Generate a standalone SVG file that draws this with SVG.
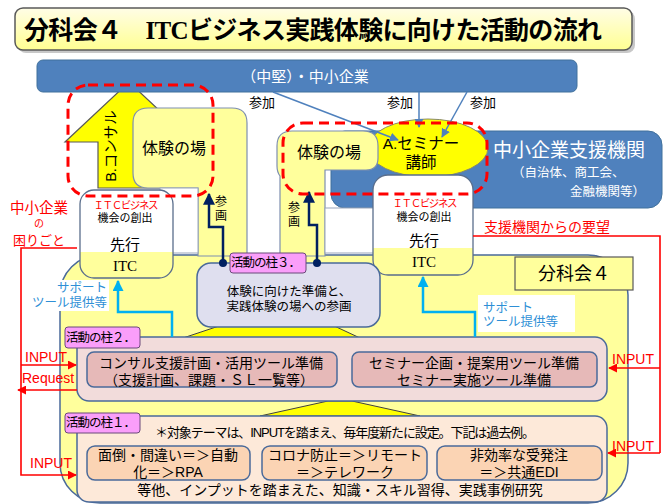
<svg xmlns="http://www.w3.org/2000/svg" width="663" height="504" viewBox="0 0 663 504">
<defs>
<linearGradient id="tg" x1="0" y1="0" x2="0" y2="1">
<stop offset="0" stop-color="#fffde6"/>
<stop offset="1" stop-color="#ffff92"/>
</linearGradient>
<marker id="aRed" viewBox="0 0 10 10" refX="9" refY="5" markerWidth="9" markerHeight="9" markerUnits="userSpaceOnUse" orient="auto"><path d="M0,0 L10,5 L0,10 Z" fill="#ff0000"/></marker>
<marker id="aSky" viewBox="0 0 10 10" refX="9" refY="5" markerWidth="11" markerHeight="11" markerUnits="userSpaceOnUse" orient="auto"><path d="M0,0 L10,5 L0,10 Z" fill="#00b0f0"/></marker>
<marker id="aNavy" viewBox="0 0 10 10" refX="9" refY="5" markerWidth="12" markerHeight="12" markerUnits="userSpaceOnUse" orient="auto"><path d="M0,0 L10,5 L0,10 Z" fill="#002060"/></marker>
<marker id="dNavy" viewBox="0 0 10 10" refX="5" refY="5" markerWidth="8" markerHeight="8" markerUnits="userSpaceOnUse"><circle cx="5" cy="5" r="5" fill="#002060"/></marker>
<marker id="aBlue" viewBox="0 0 10 10" refX="9" refY="5" markerWidth="9" markerHeight="9" markerUnits="userSpaceOnUse" orient="auto"><path d="M0,0 L10,5 L0,10 Z" fill="#4f81bd"/></marker>
<style>
text{font-family:'Liberation Sans','Noto Sans CJK JP',sans-serif;dominant-baseline:central}
.serif{font-family:'Liberation Serif','Noto Serif CJK JP','Noto Sans CJK JP',serif}
.c{text-anchor:middle}
.e{text-anchor:end}
.red{fill:#ff0000}
.wht{fill:#ffffff}
.sky{fill:#2e8fd6}
.ly{fill:#ffff9c}
.bd{stroke:#4a6a9a;stroke-width:1.5}
.pink{fill:#fa9efa;stroke:#6b4a7a;stroke-width:1}
.rl{stroke:#ff0000;stroke-width:1.6;fill:none}
.dash{fill:none;stroke:#ff0000;stroke-width:3;stroke-dasharray:10 6}
.navy{fill:none;stroke:#002060;stroke-width:2.5}
.skyl{fill:none;stroke:#00b0f0;stroke-width:2.5}
.bl{fill:none;stroke:#4f81bd;stroke-width:1.5}
</style>
</defs>
<rect width="663" height="504" fill="#ffffff"/>

<g id="title">
<rect x="18" y="11" width="617" height="42" rx="8" fill="#c8c8c8"/>
<rect x="15" y="8" width="617" height="42" rx="8" fill="url(#tg)" stroke="#595959" stroke-width="1.5"/>
<text x="24" y="30" font-size="25" font-weight="bold" fill="#000" textLength="578">分科会４　<tspan class="serif" font-weight="bold">ITC</tspan>ビジネス実践体験に向けた活動の流れ</text>
</g>

<g id="consul-arrow">
<polygon points="98,188 98,142 65,142 129,82 193,142 160,142 160,188" fill="#ffff00" stroke="#595959" stroke-width="1.2"/>
<text class="c" transform="translate(111,146) rotate(-90)" font-size="14.5">B.コンサル</text>
</g>

<g id="companies">
<rect x="37" y="60" width="540" height="32" rx="6" fill="#4f81bd" stroke="#41719c"/>
<text class="c wht" x="305" y="76" font-size="15">（中堅）・中小企業</text>
</g>

<g id="support-org">
<rect x="331" y="131" width="331" height="77" rx="14" fill="#4f81bd" stroke="#41719c"/>
<text class="c wht" x="569" y="150" font-size="19">中小企業支援機関</text>
<text class="wht" x="512" y="173" font-size="12.5">（自治体、商工会、</text>
<text class="wht e" x="645" y="192" font-size="12.5">金融機関等）</text>
</g>

<g id="bunkakai-area">
<rect x="60" y="255" width="568" height="248" rx="40" class="ly bd"/>
</g>

<g id="place-left">
<path d="M133,123 Q133,108 148,108 L232,108 Q247,108 247,123 L247,256 L198,256 L198,188 L148,188 Q133,188 133,173 Z" fill="#ffff9c" stroke="#7e8fb0" stroke-width="1.2"/>
<text class="c" x="174" y="148" font-size="16">体験の場</text>
</g>

<g id="seminar">
<ellipse cx="428" cy="148" rx="60" ry="29" fill="#ffff00" stroke="#8a8a6a" stroke-width="1"/>
<text class="c" x="421" y="143" font-size="15.5">A.セミナー</text>
<text class="c" x="421" y="162" font-size="15.5">講師</text>
</g>

<g id="place-mid">
<path d="M277,146 Q277,131 292,131 L363,131 Q378,131 378,146 L378,158 Q378,170 366,170 L325,170 L325,256 L280,256 L280,176 Q277,172 277,166 Z" fill="#ffff9c" stroke="#7e8fb0" stroke-width="1.2"/>
<text class="c" x="329" y="152" font-size="16">体験の場</text>
</g>

<g id="itc-left">
<rect x="160" y="188" width="38" height="65" fill="#ffffff" stroke="#9aa6bb" stroke-width="1"/>
<rect x="80" y="190" width="93" height="88" rx="14" fill="#ffffff"/>
<path d="M80,252 L173,252 L173,264 Q173,278 159,278 L94,278 Q80,278 80,264 Z" fill="#ffff9c"/>
<rect x="80" y="190" width="93" height="88" rx="14" fill="none" stroke="#5a6e8c" stroke-width="1.3"/>
<text class="c red" x="126" y="205" font-size="10.5" textLength="65">ＩＴＣビジネス</text>
<text class="c" x="125" y="218" font-size="11">機会の創出</text>
<text class="c" x="125" y="244" font-size="15">先行</text>
<text class="c serif" x="125" y="266" font-size="15">ITC</text>
</g>

<g id="itc-right">
<rect x="325" y="208" width="52" height="45" fill="#ffffff" stroke="#9aa6bb" stroke-width="1"/>
<rect x="373" y="175" width="100" height="100" rx="15" fill="#ffffff"/>
<path d="M373,248 L473,248 L473,261 Q473,275 459,275 L387,275 Q373,275 373,261 Z" fill="#ffff9c"/>
<rect x="373" y="175" width="100" height="100" rx="15" fill="none" stroke="#5a6e8c" stroke-width="1.3"/>
<text class="c red" x="425" y="203" font-size="10.5" textLength="65">ＩＴＣビジネス</text>
<text class="c" x="424" y="217" font-size="11">機会の創出</text>
<text class="c" x="424" y="240" font-size="15">先行</text>
<text class="c serif" x="424" y="262" font-size="15">ITC</text>
</g>

<g id="bunkakai-label">
<rect x="515" y="257" width="118" height="33" fill="#ffff9c" stroke="#595959" stroke-width="1.2"/>
<text class="c" x="574" y="274" font-size="18">分科会４</text>
</g>

<g id="lifts">
<polygon points="183,338 225,324 330,324 360,338" fill="#ffff00" stroke="#404040" stroke-width="1"/>
<polygon points="260,416 328,401 352,401 420,416" fill="#ffff00" stroke="#404040" stroke-width="1"/>
</g>

<g id="pillar3">
<rect x="197" y="263" width="183" height="64" rx="14" fill="#dfdfef" class="bd"/>
<text class="c" x="289" y="292" font-size="12.5">体験に向けた準備と、</text>
<text class="c" x="289" y="307" font-size="12.5">実践体験の場への参画</text>
<rect x="230" y="253" width="76" height="20" rx="3" class="pink"/>
<text x="231" y="263" font-size="12.5" textLength="70">活動の柱３．</text>
</g>

<g id="pillar2">
<rect x="77" y="337" width="530" height="64" rx="12" fill="#f2dcdb" class="bd"/>
<rect x="87" y="352" width="250" height="35" rx="7" fill="#e6b9b8" class="bd"/>
<text class="c" x="211" y="363" font-size="14">コンサル支援計画・活用ツール準備</text>
<text class="c" x="209" y="380" font-size="14">（支援計画、課題・ＳＬ一覧等）</text>
<rect x="352" y="352" width="245" height="35" rx="7" fill="#e6b9b8" class="bd"/>
<text class="c" x="474" y="363" font-size="14">セミナー企画・提案用ツール準備</text>
<text class="c" x="474" y="380" font-size="14">セミナー実施ツール準備</text>
<rect x="65" y="327" width="75" height="21" rx="3" class="pink"/>
<text x="66" y="338" font-size="12.5" textLength="70">活動の柱２．</text>
</g>

<g id="pillar1">
<rect x="77" y="416" width="530" height="86" rx="12" fill="#fde9d9" class="bd"/>
<text x="155" y="432" font-size="13" textLength="380">＊対象テーマは、INPUTを踏まえ、毎年度新たに設定。下記は過去例。</text>
<rect x="87" y="446" width="163" height="34" rx="8" fill="#fbd4b4" class="bd"/>
<text class="c" x="168" y="455" font-size="14">面倒・間違い＝＞自動</text>
<text class="c" x="168" y="472" font-size="14">化＝＞RPA</text>
<rect x="262" y="446" width="165" height="34" rx="8" fill="#fbd4b4" class="bd"/>
<text class="c" x="345" y="455" font-size="14">コロナ防止＝＞リモート</text>
<text class="c" x="345" y="472" font-size="14">＝＞テレワーク</text>
<rect x="437" y="446" width="165" height="34" rx="8" fill="#fbd4b4" class="bd"/>
<text class="c" x="519" y="455" font-size="14">非効率な受発注</text>
<text class="c" x="519" y="472" font-size="14">＝＞共通EDI</text>
<text class="c" x="340" y="490" font-size="14">等他、インプットを踏まえた、知識・スキル習得、実践事例研究</text>
<rect x="65" y="413" width="75" height="20" rx="3" class="pink"/>
<text x="66" y="423" font-size="12.5" textLength="70">活動の柱１．</text>
</g>

<g id="connectors">
<path class="navy" d="M223,263 L223,227 L209,227 L209,194" marker-start="url(#dNavy)" marker-end="url(#aNavy)"/>
<path class="navy" d="M317,263 L317,225 L309,225 L309,192" marker-start="url(#dNavy)" marker-end="url(#aNavy)"/>
<path class="skyl" d="M172,337 L172,312 L118,312 L118,281" marker-end="url(#aSky)"/>
<path class="skyl" d="M475,337 L475,312 L423,312 L423,277" marker-end="url(#aSky)"/>
<path class="bl" d="M273,92 L398,140" marker-end="url(#aBlue)"/>
<path class="bl" d="M419,92 L419,127" marker-end="url(#aBlue)"/>
<path class="bl" d="M467,92 L442,137" marker-end="url(#aBlue)"/>
<path class="rl" d="M473,236 L660,236 L660,453"/>
<path class="rl" d="M660,368 L609,368" marker-end="url(#aRed)"/>
<path class="rl" d="M660,453 L608,453" marker-end="url(#aRed)"/>
<path class="rl" d="M77,248 L21,248 L21,475 L76,475" marker-end="url(#aRed)"/>
<path class="rl" d="M21,365 L76,365" marker-end="url(#aRed)"/>
<path class="rl" d="M77,390 L18,390" marker-end="url(#aRed)"/>
</g>

<g id="labels">
<text class="c" x="221" y="202" font-size="12">参</text>
<text class="c" x="221" y="216" font-size="12">画</text>
<text class="c" x="294" y="208" font-size="12">参</text>
<text class="c" x="294" y="222" font-size="12">画</text>
<text class="c" x="262" y="102" font-size="13">参加</text>
<text class="c" x="400" y="102" font-size="13">参加</text>
<text class="c" x="483" y="102" font-size="13">参加</text>
<rect x="35" y="280" width="74" height="31" fill="#ffffff"/>
<text class="e sky" x="107" y="288" font-size="12.5">サポート</text>
<text class="e sky" x="107" y="303" font-size="12.5">ツール提供等</text>
<rect x="478" y="295" width="97" height="37" fill="#ffffff"/>
<text class="sky" x="483" y="308" font-size="12.5">サポート</text>
<text class="sky" x="483" y="322" font-size="12.5">ツール提供等</text>
<text class="red" x="484" y="227" font-size="14">支援機関からの要望</text>
<text class="c red" x="39" y="208" font-size="14.5">中小企業</text>
<text class="c red" x="39" y="223" font-size="10">の</text>
<text class="c red" x="39" y="240" font-size="13">困りごと</text>
<text class="red" x="25" y="357" font-size="14">INPUT</text>
<text class="red" x="22" y="378" font-size="14">Request</text>
<text class="red" x="30" y="463" font-size="14">INPUT</text>
<text class="red" x="612" y="359" font-size="14">INPUT</text>
<text class="red" x="612" y="446" font-size="14">INPUT</text>
</g>

<g id="focus">
<rect class="dash" x="68" y="85" width="145" height="111" rx="20"/>
<rect class="dash" x="283" y="123" width="204" height="71" rx="20"/>
</g>
</svg>
